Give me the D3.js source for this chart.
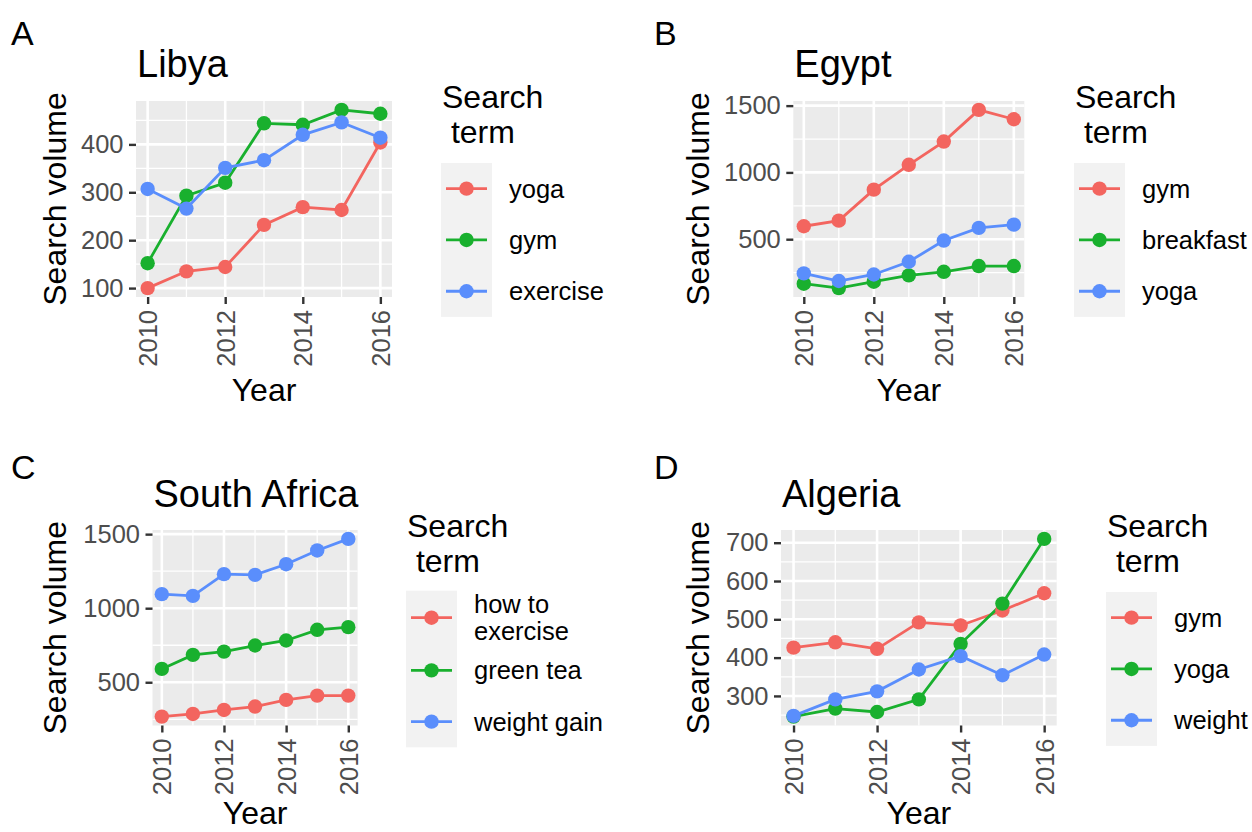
<!DOCTYPE html>
<html>
<head>
<meta charset="utf-8">
<script src="https://cdn.jsdelivr.net/npm/d3@7"></script>
<style>
  html, body { margin: 0; padding: 0; background: #fff; }
  svg { display: block; font-family: "Liberation Sans", Arial, Helvetica, sans-serif; }
</style>
</head>
<body>
<svg id="fig" width="1252" height="832"></svg>
<script>
// Yearly search volume for the top three search terms in four countries.
const years = [2010, 2011, 2012, 2013, 2014, 2015, 2016];
const yearTicks = [2010, 2012, 2014, 2016];
const yearMinor = [2011, 2013, 2015];

const libyaTerms = ["yoga", "gym", "exercise"];
const libyaYoga = [100, 135, 144, 232, 269, 263, 404];
const libyaGym = [152, 293, 320, 444, 441, 472, 464];
const libyaExercise = [307, 266, 351, 367, 420, 446, 414];
const libyaTicks = [100, 200, 300, 400];

const egyptTerms = ["gym", "breakfast", "yoga"];
const egyptGym = [597, 639, 871, 1057, 1231, 1468, 1398];
const egyptBreakfast = [167, 134, 182, 229, 256, 299, 299];
const egyptYoga = [244, 187, 236, 331, 490, 585, 609];
const egyptTicks = [500, 1000, 1500];

const southAfricaTerms = ["how to\nexercise", "green tea", "weight gain"];
const southAfricaHowToExercise = [268, 286, 313, 336, 381, 410, 410];
const southAfricaGreenTea = [590, 685, 707, 748, 782, 854, 872];
const southAfricaWeightGain = [1095, 1083, 1230, 1225, 1297, 1390, 1468];
const southAfricaTicks = [500, 1000, 1500];

const algeriaTerms = ["gym", "yoga", "weight"];
const algeriaGym = [426, 440, 423, 492, 484, 523, 568];
const algeriaYoga = [246, 267, 258, 291, 436, 541, 710];
const algeriaWeight = [248, 291, 312, 369, 404, 354, 408];
const algeriaTicks = [300, 400, 500, 600, 700];

const seriesColors = ["#F3655F", "#19B02E", "#5A8EFC"];

const svg = d3.select("#fig");
const FONT_TICK = 25.5, FONT_TITLE = 32, FONT_PLOT_TITLE = 38, FONT_LEGEND = 25.5, FONT_TAG = 34;

function drawPanel(cfg) {
  const g = svg.append("g");
  const { left, right, top, bottom } = cfg.panel;

  const x = d3.scaleLinear()
    .domain([2010 - 0.3, 2016 + 0.3])
    .range([left, right]);

  const all = cfg.series.flat();
  const lo = d3.min(all), hi = d3.max(all), pad = (hi - lo) * 0.05;
  const y = d3.scaleLinear().domain([lo - pad, hi + pad]).range([bottom, top]);

  // panel background
  g.append("rect").attr("x", left).attr("y", top)
    .attr("width", right - left).attr("height", bottom - top)
    .attr("fill", "#EBEBEB");

  // minor grid (midpoints between major breaks that fall inside the range)
  const step = cfg.yTicks[1] - cfg.yTicks[0];
  const yMinor = [];
  for (let v = cfg.yTicks[0] - step / 2; v <= y.domain()[1]; v += step) {
    if (v >= y.domain()[0]) yMinor.push(v);
  }
  g.selectAll(null).data(yMinor).join("line")
    .attr("x1", left).attr("x2", right)
    .attr("y1", d => y(d)).attr("y2", d => y(d))
    .attr("stroke", "#fff").attr("stroke-width", 1.3);
  g.selectAll(null).data(yearMinor).join("line")
    .attr("y1", top).attr("y2", bottom)
    .attr("x1", d => x(d)).attr("x2", d => x(d))
    .attr("stroke", "#fff").attr("stroke-width", 1.3);

  // major grid
  g.selectAll(null).data(cfg.yTicks).join("line")
    .attr("x1", left).attr("x2", right)
    .attr("y1", d => y(d)).attr("y2", d => y(d))
    .attr("stroke", "#fff").attr("stroke-width", 2.6);
  g.selectAll(null).data(yearTicks).join("line")
    .attr("y1", top).attr("y2", bottom)
    .attr("x1", d => x(d)).attr("x2", d => x(d))
    .attr("stroke", "#fff").attr("stroke-width", 2.6);

  // axes
  const yAxis = d3.axisLeft(y).tickValues(cfg.yTicks).tickSize(7).tickPadding(5.5)
    .tickFormat(d3.format("d"));
  const ya = g.append("g").attr("transform", `translate(${left},0)`).call(yAxis);
  ya.select(".domain").remove();
  ya.selectAll(".tick line").attr("stroke", "#333333").attr("stroke-width", 2.4);
  ya.selectAll(".tick text").attr("fill", "#4D4D4D")
    .style("font-size", FONT_TICK + "px");

  const xAxis = d3.axisBottom(x).tickValues(yearTicks).tickSize(7).tickFormat(d3.format("d"));
  const xa = g.append("g").attr("transform", `translate(0,${bottom})`).call(xAxis);
  xa.select(".domain").remove();
  xa.selectAll(".tick line").attr("stroke", "#333333").attr("stroke-width", 2.4);
  xa.selectAll(".tick text")
    .attr("fill", "#4D4D4D")
    .style("font-size", FONT_TICK + "px")
    .attr("y", 0).attr("dy", "0.35em")
    .attr("text-anchor", "end")
    .attr("transform", "translate(0,13) rotate(-90)");

  // lines then points
  const line = d3.line().x((d, i) => x(years[i])).y(d => y(d));
  cfg.series.forEach((s, k) => {
    g.append("path").datum(s).attr("d", line)
      .attr("fill", "none").attr("stroke", seriesColors[k]).attr("stroke-width", 2.8);
  });
  cfg.series.forEach((s, k) => {
    g.selectAll(null).data(s).join("circle")
      .attr("cx", (d, i) => x(years[i])).attr("cy", d => y(d))
      .attr("r", 7.2).attr("fill", seriesColors[k]);
  });

  // axis titles
  g.append("text")
    .attr("transform", `translate(${cfg.yTitleX},${(top + bottom) / 2}) rotate(-90)`)
    .attr("text-anchor", "middle").style("font-size", FONT_TITLE + "px")
    .text("Search volume");
  g.append("text")
    .attr("x", (left + right) / 2).attr("y", cfg.xTitleY)
    .attr("text-anchor", "middle").style("font-size", FONT_TITLE + "px")
    .text("Year");

  // plot title and tag
  g.append("text").attr("x", left + 1).attr("y", cfg.titleY)
    .style("font-size", FONT_PLOT_TITLE + "px").text(cfg.title);
  g.append("text").attr("x", cfg.tag[0]).attr("y", cfg.tag[1])
    .style("font-size", FONT_TAG + "px").text(cfg.tagText);

  // legend
  const L = cfg.legend;
  const lt = g.append("text").style("font-size", FONT_TITLE + "px").style("white-space", "pre");
  lt.append("tspan").attr("x", L.x + 1).attr("y", L.titleY).text("Search");
  lt.append("tspan").attr("x", L.x + 1).attr("y", L.titleY + 35).text(" term");

  const rowH = cfg.terms.map(t => t.includes("\n") ? 54 : 51.3);
  const boxH = d3.sum(rowH);
  g.append("rect").attr("x", L.x).attr("y", L.top)
    .attr("width", 51).attr("height", boxH).attr("fill", "#F2F2F2");
  let cy = L.top;
  cfg.terms.forEach((t, k) => {
    const c = cy + rowH[k] / 2;
    g.append("line").attr("x1", L.x + 5).attr("x2", L.x + 46)
      .attr("y1", c).attr("y2", c)
      .attr("stroke", seriesColors[k]).attr("stroke-width", 2.8);
    g.append("circle").attr("cx", L.x + 25.5).attr("cy", c).attr("r", 7.2)
      .attr("fill", seriesColors[k]);
    const lines = t.split("\n");
    const txt = g.append("text").style("font-size", FONT_LEGEND + "px");
    const lh = 27;
    lines.forEach((s, j) => {
      txt.append("tspan").attr("x", L.x + 68)
        .attr("y", c + (j - (lines.length - 1) / 2) * lh)
        .attr("dy", "0.35em").text(s);
    });
    cy += rowH[k];
  });
}

drawPanel({
  tagText: "A", tag: [11, 45], title: "Libya", titleY: 77,
  panel: { left: 136, right: 392, top: 101, bottom: 297 },
  series: [libyaYoga, libyaGym, libyaExercise], terms: libyaTerms, yTicks: libyaTicks,
  yTitleX: 66, xTitleY: 401,
  legend: { x: 441, top: 163, titleY: 108 }
});
drawPanel({
  tagText: "B", tag: [654, 45], title: "Egypt", titleY: 77,
  panel: { left: 793.3, right: 1024.3, top: 101, bottom: 297 },
  series: [egyptGym, egyptBreakfast, egyptYoga], terms: egyptTerms, yTicks: egyptTicks,
  yTitleX: 709, xTitleY: 401,
  legend: { x: 1074, top: 163, titleY: 108 }
});
drawPanel({
  tagText: "C", tag: [11, 479], title: "South Africa", titleY: 507,
  panel: { left: 152.5, right: 357.6, top: 530, bottom: 725.5 },
  series: [southAfricaHowToExercise, southAfricaGreenTea, southAfricaWeightGain],
  terms: southAfricaTerms, yTicks: southAfricaTicks,
  yTitleX: 66, xTitleY: 824,
  legend: { x: 406, top: 590.7, titleY: 537 }
});
drawPanel({
  tagText: "D", tag: [654, 479], title: "Algeria", titleY: 507,
  panel: { left: 781, right: 1056.7, top: 530, bottom: 725.5 },
  series: [algeriaGym, algeriaYoga, algeriaWeight], terms: algeriaTerms, yTicks: algeriaTicks,
  yTitleX: 709, xTitleY: 824,
  legend: { x: 1106, top: 592, titleY: 537 }
});
</script>
</body>
</html>
